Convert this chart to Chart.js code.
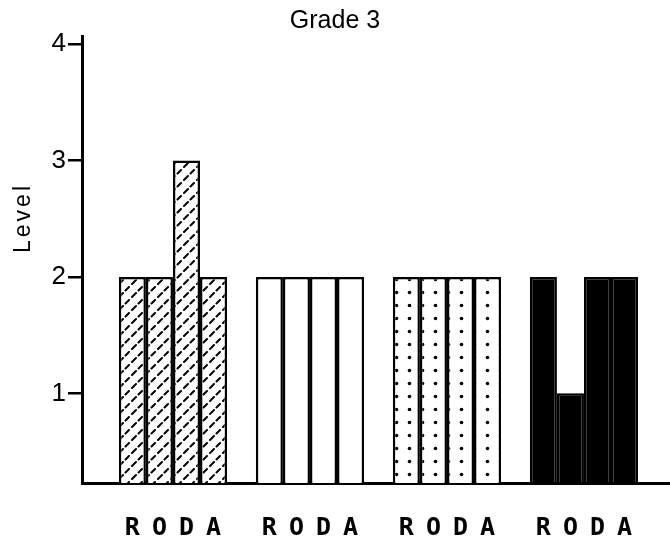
<!DOCTYPE html>
<html>
<head>
<meta charset="utf-8">
<script src="https://cdn.jsdelivr.net/npm/chart.js@4.4.1/dist/chart.umd.min.js"></script>
<style>
  html, body { margin: 0; padding: 0; background: #fff; }
  #wrap { width: 670px; height: 544px; }
</style>
</head>
<body>
<div id="wrap"><canvas id="chart-grade"></canvas></div>
<script>
// groups along the x axis (no printed labels in the original)
var groups = ['Group 1', 'Group 2', 'Group 3', 'Group 4'];
var groupPos = [1, 2, 3, 4];
// one series per letter under each bar
var seriesNames = ['R', 'O', 'D', 'A'];
var valuesR = [2, 2, 2, 2];
var valuesO = [2, 2, 2, 1];
var valuesD = [3, 2, 2, 2];
var valuesA = [2, 2, 2, 2];
var yTicks = [1, 2, 3, 4];

function makeHatch() {
  var c = document.createElement('canvas');
  c.width = 13; c.height = 13;
  var g = c.getContext('2d');
  g.fillStyle = '#fff';
  g.fillRect(0, 0, 13, 13);
  g.strokeStyle = '#000';
  g.lineWidth = 2;
  g.lineCap = 'round';
  g.beginPath();
  g.moveTo(2, 11); g.lineTo(6, 7);
  g.moveTo(8.5, 4.5); g.lineTo(12, 1);
  g.stroke();
  return g.createPattern(c, 'repeat');
}

function makeDots() {
  var c = document.createElement('canvas');
  c.width = 13; c.height = 13;
  var g = c.getContext('2d');
  g.fillStyle = '#fff';
  g.fillRect(0, 0, 13, 13);
  g.fillStyle = '#000';
  g.beginPath();
  g.arc(6.5, 6.5, 1.8, 0, Math.PI * 2);
  g.fill();
  return g.createPattern(c, 'repeat');
}

var fills = [makeHatch(), '#fff', makeDots(), '#000'];

function toPoints(vals) {
  return vals.map(function(v, i) { return { x: groupPos[i], y: v }; });
}

var allValues = [valuesR, valuesO, valuesD, valuesA];
var datasets = seriesNames.map(function(name, i) {
  return {
    label: name,
    data: toPoints(allValues[i]),
    backgroundColor: fills,
    borderColor: '#000',
    borderWidth: 2.5,
    borderSkipped: false,
    categoryPercentage: 0.79,
    barPercentage: 1.0
  };
});

// letters under each bar + rotated y title
var letterPlugin = {
  id: 'letters',
  afterDraw: function(chart) {
    var ctx = chart.ctx;
    var area = chart.chartArea;
    ctx.save();
    ctx.fillStyle = '#000';
    ctx.textAlign = 'center';
    ctx.textBaseline = 'middle';
    ctx.font = 'bold 25px "DejaVu Sans Mono", monospace';
    chart.data.datasets.forEach(function(ds, i) {
      chart.getDatasetMeta(i).data.forEach(function(bar) {
        ctx.fillText(ds.label, bar.x, area.bottom + 45);
      });
    });
    ctx.translate(24, 220);
    ctx.rotate(-Math.PI / 2);
    ctx.font = '23px "Liberation Sans", Arial, sans-serif';
    ctx.letterSpacing = '3px';
    ctx.fillText('Level', 2, 0);
    ctx.restore();
  }
};

var ctx = document.getElementById('chart-grade').getContext('2d');
new Chart(ctx, {
  type: 'bar',
  data: { labels: groups, datasets: datasets },
  options: {
    responsive: true,
    maintainAspectRatio: false,
    animation: false,
    layout: { padding: 0 },
    plugins: {
      legend: { display: false },
      tooltip: { enabled: false },
      title: {
        display: true,
        text: 'Grade 3',
        color: '#000',
        font: { family: '"Liberation Sans", Arial, sans-serif', size: 25, weight: 'normal', lineHeight: 1.1 },
        padding: { top: 7, bottom: 1.5 }
      }
    },
    scales: {
      x: {
        type: 'linear',
        min: 0.336,
        max: 4.628,
        offset: false,
        afterBuildTicks: function(s) { s.ticks = groupPos.map(function(v) { return { value: v }; }); },
        afterFit: function(s) { s.height = 61; },
        ticks: { display: false },
        grid: { display: false },
        border: { display: true, color: '#000', width: 3 }
      },
      y: {
        min: 0.23,
        max: 4.07,
        afterBuildTicks: function(s) { s.ticks = yTicks.map(function(v) { return { value: v }; }); },
        afterFit: function(s) { s.width = 82; },
        ticks: {
          color: '#000',
          padding: 2,
          font: { family: '"Liberation Sans Narrow", "Liberation Sans", sans-serif', size: 26 }
        },
        grid: { drawOnChartArea: false, drawTicks: true, tickLength: 14, color: '#000', lineWidth: 2.5 },
        border: { display: true, color: '#000', width: 3 }
      }
    }
  },
  plugins: [letterPlugin]
});
</script>
</body>
</html>
